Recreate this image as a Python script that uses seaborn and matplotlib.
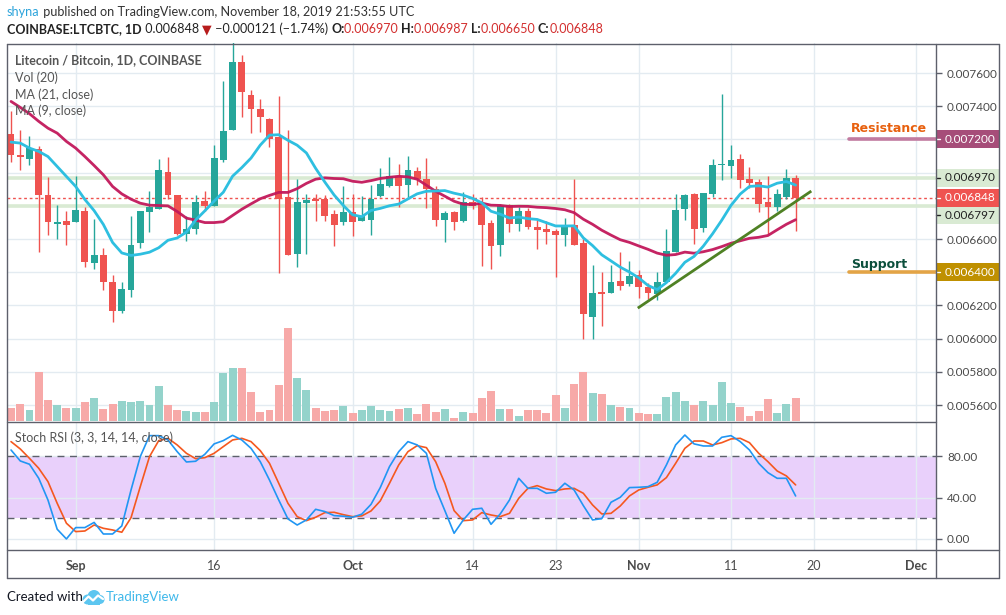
import numpy as np
import pandas as pd
import matplotlib
matplotlib.use('Agg')
import matplotlib.pyplot as plt
import matplotlib.patches as mpatches
import matplotlib.transforms as mtrans
from matplotlib.lines import Line2D
import seaborn as sns

# ---------------- data (prices in 1e-6 BTC) ----------------
start_date = '2019-08-25'
opens = [7234, 7108, 7085, 7144, 6866, 6690, 6710, 6700, 6770, 6458, 6505, 6342, 6169, 6293, 6579, 6764, 6780,
         7005, 6866, 6631, 6661, 6830, 6802, 7077, 7258, 7664, 7469, 7385, 7325, 7212, 6856, 6507, 6820, 6844,
         6844, 6752, 6700, 6764, 6706, 6716, 6862, 6921, 6977, 6927, 7011, 6963, 6903, 6716, 6764, 6710, 6824,
         6816, 6694, 6567, 6804, 6692, 6770, 6673, 6661, 6651, 6627, 6683, 6577, 6133, 6279, 6277, 6348, 6330,
         6384, 6314, 6269, 6342, 6525, 6782, 6872, 6667, 6872, 7047, 7041, 7083, 6963, 6945, 6824, 6796, 6854, 6970]
highs = [7373, 7254, 7222, 7162, 6971, 6806, 6770, 6981, 6796, 6722, 6545, 6384, 6342, 6736, 6770, 6890, 7083,
         7093, 6866, 6736, 6866, 6892, 7168, 7550, 7790, 7711, 7500, 7443, 7329, 7463, 7254, 6963, 6872, 6872,
         6866, 6776, 6921, 6872, 6862, 6923, 7029, 7097, 7053, 7101, 7037, 7091, 6917, 6768, 6770, 6884, 6872,
         6856, 6716, 6812, 6812, 6796, 6786, 6716, 6706, 6663, 6724, 6963, 6603, 6444, 6404, 6444, 6523, 6465,
         6414, 6338, 6402, 6661, 6870, 6872, 6880, 6880, 7083, 7475, 7168, 7113, 7035, 6961, 6981, 6903, 7023, 6987]
lows = [7067, 7017, 7047, 6525, 6625, 6601, 6565, 6700, 6434, 6420, 6293, 6103, 6157, 6253, 6547, 6643, 6780,
        6840, 6625, 6591, 6631, 6772, 6802, 7067, 7258, 7333, 7238, 7242, 7154, 6394, 6501, 6429, 6507, 6706,
        6706, 6561, 6682, 6621, 6706, 6625, 6856, 6911, 6796, 6856, 6927, 6790, 6676, 6583, 6655, 6704, 6784,
        6438, 6420, 6497, 6643, 6649, 6661, 6541, 6571, 6374, 6561, 6567, 5998, 5996, 6076, 6277, 6293, 6320,
        6247, 6241, 6233, 6342, 6525, 6716, 6573, 6643, 6856, 6953, 6969, 6905, 6907, 6764, 6629, 6768, 6840, 6650]
closes = [7108, 7092, 7146, 6868, 6700, 6703, 6687, 6776, 6464, 6505, 6344, 6169, 6299, 6565, 6770, 6796, 7017,
          6868, 6631, 6661, 6822, 6802, 7091, 7252, 7664, 7483, 7385, 7333, 7202, 6844, 6501, 6822, 6834, 6830,
          6736, 6687, 6764, 6700, 6736, 6842, 6933, 6977, 6921, 7017, 6961, 6903, 6716, 6758, 6700, 6824, 6802,
          6685, 6559, 6802, 6692, 6770, 6673, 6657, 6645, 6627, 6683, 6567, 6151, 6273, 6269, 6342, 6320, 6378,
          6314, 6273, 6342, 6529, 6776, 6866, 6663, 6876, 7045, 7053, 7077, 6957, 6939, 6812, 6796, 6872, 6969, 6848]
volume = [40, 51, 34, 148, 63, 48, 39, 39, 57, 69, 36, 51, 60, 57, 60, 48, 105, 48, 33, 30, 27, 27, 57, 144,
          159, 159, 87, 27, 33, 108, 280, 129, 93, 39, 30, 33, 45, 24, 33, 45, 33, 30, 36, 39, 21, 51, 27, 36,
          9, 27, 24, 69, 90, 36, 36, 15, 33, 33, 24, 78, 39, 111, 148, 84, 81, 48, 42, 39, 24, 21, 21, 72, 87,
          60, 48, 60, 48, 117, 54, 42, 15, 30, 66, 24, 51, 69]
# moving-average values read off the chart where the window is not yet filled
ma21_start = [7429, 7393, 7355, 7309, 7268, 7238, 7188, 7148, 7097, 7043, 6987, 6917, 6872, 6840, 6816,
              6804, 6802, 6800, 6766, 6726]
ma9_start = [7184, 7178, 7148, 7128, 7097, 7037, 6977, 6917]
stoch_k = [86.1, 75.5, 72.3, 58.7, 37.7, 9.4, 0.0, 11.0, 11.0, 16.0, 4.8, 4.8, 12.6, 47.4, 79.7, 100.0, 100.0,
           95.8, 84.5, 74.5, 75.2, 82.0, 92.0, 95.2, 100.3, 95.8, 87.7, 74.8, 57.0, 37.7, 19.4, 13.5, 18.4,
           28.7, 26.5, 22.6, 22.0, 21.0, 24.0, 33.5, 49.7, 70.0, 84.5, 94.2, 91.0, 82.9, 49.0, 27.4, 5.5, 18.4,
           28.7, 29.7, 14.2, 24.2, 37.7, 58.7, 49.0, 49.0, 44.2, 45.2, 53.9, 47.4, 32.3, 18.4, 19.7, 35.5, 40.3,
           49.7, 50.0, 50.6, 54.8, 71.6, 91.0, 100.6, 92.0, 90.0, 90.0, 98.4, 100.0, 94.2, 86.1, 73.2, 64.2,
           58.7, 58.7, 41.6]
stoch_d = [94.2, 87.1, 78.0, 68.4, 55.5, 34.5, 15.2, 7.1, 7.7, 13.5, 10.3, 8.7, 6.5, 20.6, 50.6, 79.7, 95.2,
           97.4, 91.0, 82.9, 77.7, 78.7, 82.9, 89.4, 95.8, 97.4, 94.2, 85.5, 73.2, 53.9, 34.5, 21.6, 17.7, 21.0,
           25.5, 25.8, 23.5, 21.6, 22.3, 27.1, 36.8, 53.9, 71.6, 84.5, 90.3, 88.4, 74.8, 53.9, 27.4, 17.7, 18.4,
           25.5, 23.2, 21.6, 24.8, 39.3, 49.0, 51.6, 48.4, 46.8, 48.4, 49.0, 44.2, 32.9, 24.2, 24.8, 31.9, 41.6,
           47.4, 50.0, 52.3, 59.4, 73.2, 87.7, 94.8, 94.8, 91.0, 93.2, 96.8, 97.4, 93.2, 82.9, 74.8, 65.8, 61.0,
           52.3]
tick_dates = ['2019-09-01', '2019-09-16', '2019-10-01', '2019-10-14', '2019-10-23', '2019-11-01',
              '2019-11-11', '2019-11-20', '2019-12-01']
tick_labels = ['Sep', '16', 'Oct', '14', '23', 'Nov', '11', '20', 'Dec']
month_labels = ['Sep', 'Oct', 'Nov', 'Dec']
price_ticks = [0.0056, 0.0058, 0.0060, 0.0062, 0.0064, 0.0066, 0.0068, 0.0070, 0.0072, 0.0074, 0.0076]
hidden_price_labels = [0.0064, 0.0068, 0.0070, 0.0072]   # covered by the marker boxes in the chart
stoch_ticks = [0, 40, 80]
last_price = 0.006848
level_high = 0.006970
level_low = 0.006797
resistance = 0.0072
support = 0.0064
trend_dates = ['2019-10-31 21:36', '2019-11-19 16:48']
trend_prices = [0.006184, 0.006889]
level_seg_start = '2019-11-23 19:00'
level_label_date = '2019-11-24 00:00'
view_start, view_end = '2019-08-24 13:30', '2019-12-03 05:00'

# ---------------- prep ----------------
scale = 1e-6
O = np.array(opens) * scale
Hh = np.array(highs) * scale
L = np.array(lows) * scale
C = np.array(closes) * scale
V = np.array(volume, dtype=float)
n = len(C)
t0 = pd.Timestamp(start_date)
def di(d):
    return (pd.Timestamp(d) - t0) / pd.Timedelta('1D')
idx = np.arange(n)
cl = pd.Series(closes, dtype=float)
ma21 = cl.rolling(21).mean().to_numpy()
ma21[:len(ma21_start)] = ma21_start
ma9 = cl.rolling(9).mean().to_numpy()
ma9[:len(ma9_start)] = ma9_start
ma21 *= scale
ma9 *= scale
up = C >= O
GREEN, RED = '#26a69a', '#ef5350'
cols = np.where(up, GREEN, RED)
vcols = np.where(up, '#94d3cb', '#f7a9a8')

# ---------------- figure ----------------
sns.set_theme(style='white')
plt.rcParams['font.family'] = ['Lato', 'DejaVu Sans']
plt.rcParams['axes.unicode_minus'] = True

W, Hpx = 1006, 615
fig = plt.figure(figsize=(W / 100, Hpx / 100), dpi=100, facecolor='white')
def fx(px):
    return px / W
def fy(py):
    return 1 - py / Hpx

ax = fig.add_axes([fx(7), fy(421), (936 - 7) / W, (421 - 43) / Hpx])
ax2 = fig.add_axes([fx(7), fy(550), (936 - 7) / W, (550 - 422) / Hpx])
xlim = (di(view_start), di(view_end))
ylim = (0.005504, 0.007781)
px_price = (ylim[1] - ylim[0]) / 378.0

tick_idx = [di(d) for d in tick_dates]
GRID = '#e3ebf1'
TXT = '#4b4b4b'
AXC = '#5d606b'

# price pane grid
ax.set_xlim(*xlim)
ax.set_ylim(*ylim)
ax.set_xticks(tick_idx)
ax.set_yticks(price_ticks)
ax.set_yticklabels(['' if any(abs(v - h) < 1e-9 for h in hidden_price_labels) else f'{v:.6f}'
                    for v in price_ticks])
ax.grid(True, color=GRID, lw=1)
ax.set_axisbelow(True)

# volume pane (overlay)
axv = ax.twinx()
axv.bar(idx, V, width=0.86, color=vcols, linewidth=0, zorder=1)
axv.set_ylim(0, 1134)
axv.set_yticks([])
for s in axv.spines.values():
    s.set_visible(False)
axv.set_xlim(*xlim)

ax.tick_params(axis='y', left=False, labelleft=False, right=True, labelright=True, length=4, width=1,
               color=AXC, pad=4, labelsize=8.5, labelcolor=TXT)
ax.tick_params(axis='x', bottom=False, labelbottom=False)
for s in ax.spines.values():
    s.set_visible(False)

# horizontal levels
ax.axhline(level_high, color='#d9ead3', lw=2.6, zorder=2)
ax.axhline(level_low, color='#d9ead3', lw=2.6, zorder=2)
ax.axhline(last_price, color=RED, lw=1, ls=(0, (2, 2)), zorder=2)

# candles
ax.vlines(idx, L, Hh, colors=cols, linewidth=1, zorder=3)
body = np.maximum(np.abs(C - O), 0.0000045)
ax.bar(idx, body, bottom=np.minimum(O, C), width=0.74, color=cols, linewidth=0, zorder=4)

# moving averages
sns.lineplot(x=idx, y=ma21, ax=ax, color='#c2185b', lw=2.0, zorder=5, alpha=0.95)
sns.lineplot(x=idx, y=ma9, ax=ax, color='#2ebfe0', lw=2.0, zorder=6)

# trend line
ax.plot([di(d) for d in trend_dates], trend_prices, color='#4f8124', lw=2.0, zorder=7,
        solid_capstyle='butt')

# resistance / support segments
seg_x0 = di(level_seg_start)
ax.plot([seg_x0, xlim[1]], [resistance, resistance], color='#c27ba0', lw=2.6, zorder=7, clip_on=False)
ax.plot([seg_x0, xlim[1]], [support, support], color='#e3a446', lw=2.6, zorder=7, clip_on=False)
lab_x = di(level_label_date)
ax.text(lab_x, resistance + 11 * px_price, 'Resistance', color='#e8600e', fontsize=9, fontweight='bold',
        family=['DejaVu Sans'], va='center', ha='left', zorder=8)
ax.text(lab_x, support + 8 * px_price, 'Support', color='#0b4f3c', fontsize=9, fontweight='bold',
        family=['DejaVu Sans'], va='center', ha='left', zorder=8)

# right axis label boxes
bt = mtrans.blended_transform_factory(ax.transAxes, ax.transData)
box_w = (999 - 936) / 929.0
def price_box(val, face, tc, shift_px=0):
    c = val - shift_px * px_price
    h = 18 * px_price
    ax.add_patch(mpatches.Rectangle((1.0, c - h / 2), box_w, h, transform=bt, facecolor=face,
                                    edgecolor='none', clip_on=False, zorder=10))
    ax.plot([1.0, 1.0 + 4 / 929.0], [c, c], transform=bt, color=tc, lw=1, clip_on=False, zorder=11)
    ax.text(1.0 + 9 / 929.0, c, f'{val:.6f}', transform=bt, color=tc, fontsize=8.5, va='center',
            ha='left', clip_on=False, zorder=11)

price_box(resistance, '#a64d79', 'white')
price_box(level_high, '#d9ead3', '#222222')
price_box(level_low, '#d9ead3', '#222222', shift_px=9)
price_box(last_price, RED, 'white')
price_box(support, '#bf9000', 'white')

# ---------------- stoch RSI pane ----------------
ax2.set_xlim(*xlim)
ax2.set_ylim(-10.7, 113.2)
ax2.axhspan(20, 80, color='#e9d0fb', lw=0, zorder=0)
ax2.set_xticks(tick_idx)
ax2.set_xticklabels(tick_labels)
ax2.set_yticks(stoch_ticks)
ax2.set_yticklabels([f'{v:.2f}' for v in stoch_ticks])
ax2.grid(True, color=GRID, lw=1)
ax2.set_axisbelow(True)
ax2.axhline(80, color=AXC, lw=1, ls=(0, (5, 4)), zorder=2)
ax2.axhline(20, color=AXC, lw=1, ls=(0, (5, 4)), zorder=2)
sns.lineplot(x=idx, y=stoch_k, ax=ax2, color='#2196f3', lw=1.2, zorder=4)
sns.lineplot(x=idx, y=stoch_d, ax=ax2, color='#f5581f', lw=1.2, zorder=3)
ax2.set_xlabel('')
ax2.set_ylabel('')
ax.set_xlabel('')
ax.set_ylabel('')
for s in ax2.spines.values():
    s.set_visible(False)
ax2.tick_params(axis='y', left=False, labelleft=False, right=True, labelright=True, length=4, width=1,
                color=AXC, pad=4, labelsize=8.5, labelcolor=TXT)
ax2.tick_params(axis='x', length=0, pad=7, labelsize=9, labelcolor=TXT)
for lab in ax2.get_xticklabels():
    if lab.get_text() in month_labels:
        lab.set_fontweight('bold')

# ---------------- frame lines ----------------
def fline(x0, y0, x1, y1, color=AXC, lw=1.0):
    fig.add_artist(Line2D([fx(x0), fx(x1)], [fy(y0), fy(y1)], color=color, lw=lw,
                          transform=fig.transFigure))
fline(7, 43.5, 999, 43.5)
fline(7, 43.5, 7, 578)
fline(999, 43.5, 999, 578)
fline(7, 578, 999, 578)
fline(7, 550, 999, 550)
fline(936, 43.5, 936, 578)
fline(7, 421.5, 936, 421.5)

# ---------------- texts ----------------
r = fig.canvas.get_renderer()
def pieces(x_px, y_px, parts, size):
    x = x_px
    for s, color, weight in parts:
        t = fig.text(fx(x), fy(y_px), s, color=color, fontsize=size, fontweight=weight, va='center', ha='left')
        x += t.get_window_extent(renderer=r).width

pieces(7, 12, [('shyna', '#2ba3db', 'normal'),
               (' published on TradingView.com, November 18, 2019 21:53:55 UTC', '#333333', 'normal')], 9.1)
red_v = '#d32f2f'
pieces(7, 29, [('COINBASE:LTCBTC, 1D', '#222222', 'bold'),
               (' 0.006848 ', '#222222', 'normal'),
               ('\u25BC', '#b71c1c', 'normal'),
               (' \u22120.000121 (\u22121.74%) ', '#222222', 'normal'),
               ('O:', '#222222', 'bold'), ('0.006970 ', red_v, 'normal'),
               ('H:', '#222222', 'bold'), ('0.006987 ', red_v, 'normal'),
               ('L:', '#222222', 'bold'), ('0.006650 ', red_v, 'normal'),
               ('C:', '#222222', 'bold'), ('0.006848', red_v, 'normal')], 9.0)

fig.text(fx(15), fy(60), 'Litecoin / Bitcoin, 1D, COINBASE', color='#555555', fontsize=9, fontweight='bold',
         va='center', ha='left')
for yy, s in [(78, 'Vol (20)'), (95, 'MA (21, close)'), (111, 'MA (9, close)')]:
    fig.text(fx(15), fy(yy), s, color='#555555', fontsize=9, va='center', ha='left')
fig.text(fx(15), fy(438), 'Stoch RSI (3, 3, 14, 14, close)', color='#555555', fontsize=9, va='center',
         ha='left')

# footer
fig.text(fx(7), fy(597), 'Created with', color='#131722', fontsize=9.5, va='center', ha='left')
fig.text(fx(106), fy(597), 'TradingView', color='#3fb8ea', fontsize=9.5, va='center', ha='left')
axl = fig.add_axes([fx(81), fy(606), 24 / W, 18 / Hpx])
axl.set_xlim(0, 24)
axl.set_ylim(0, 18)
axl.axis('off')
LB = '#5cc6f0'
for (cx, cy, rr) in [(6.5, 6.5, 5.0), (13, 9.5, 6.5), (19, 6.5, 4.5)]:
    axl.add_patch(mpatches.Ellipse((cx, cy), 2 * rr, 2 * rr, color=LB, lw=0))
axl.add_patch(mpatches.Rectangle((6.5, 1.5), 12.5, 5, color=LB, lw=0))
axl.plot([2, 7.5, 12, 17, 22], [4, 9.5, 5.5, 10.5, 7], color='white', lw=1.6, solid_capstyle='round')

fig.savefig('out.png', dpi=100, facecolor='white')
